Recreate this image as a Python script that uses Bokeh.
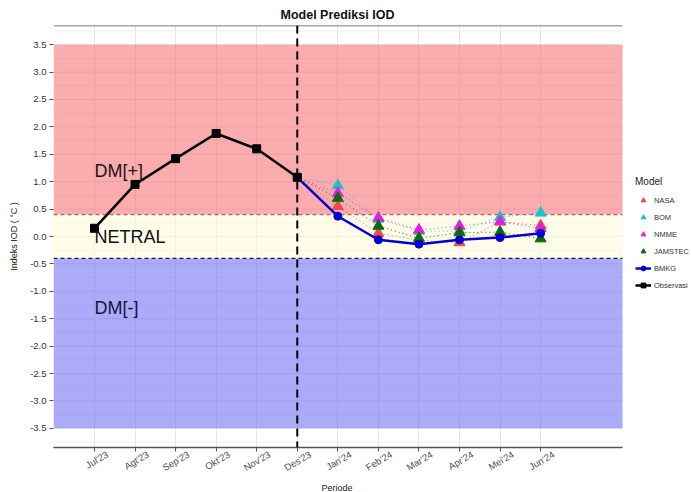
import numpy as np
from bokeh.plotting import figure
from bokeh.models import (Range1d, FixedTicker, LinearAxis, Span, Label, Legend, LegendItem,
                          BoxAnnotation, SingleIntervalTicker, PrintfTickFormatter, Grid, Title)
from bokeh.embed import file_html
from bokeh.resources import INLINE

# ---- data ----
periods = ["Jul'23", "Agt'23", "Sep'23", "Okt'23", "Nov'23", "Des'23",
           "Jan'24", "Feb'24", "Mar'24", "Apr'24", "Mei'24", "Jun'24"]
period_pos = list(range(1, 13))
obs_idx = [1, 2, 3, 4, 5, 6]
observasi = [0.15, 0.95, 1.42, 1.88, 1.60, 1.08]
fc_idx = [6, 7, 8, 9, 10, 11, 12]
bmkg = [1.08, 0.37, -0.06, -0.14, -0.06, -0.02, 0.06]
nasa = [1.08, 0.55, 0.06, -0.07, -0.11, 0.27, 0.20]
bom = [1.08, 0.93, 0.32, 0.10, 0.10, 0.35, 0.43]
nmme = [1.08, 0.79, 0.34, 0.12, 0.19, 0.27, 0.15]
jamstec = [1.08, 0.70, 0.19, -0.03, 0.07, 0.08, -0.04]
model_names = ["NASA", "BOM", "NMME", "JAMSTEC"]
model_values = [nasa, bom, nmme, jamstec]
model_colors = ["#F04A4A", "#22C0C6", "#E020E0", "#0A6A0A"]
zone_texts = ["DM[+]", "NETRAL", "DM[-]"]
zone_text_y = [1.2, 0.0, -1.3]
des_pos = 6
thr_hi, thr_lo = 0.4, -0.4
zone_top, zone_bot = 3.5, -3.5

FONT = "Liberation Sans"
X0, X_EDGE, X1 = -0.01, 14.02, 15.72   # panel left, panel right, canvas right
Y0, Y1 = -3.85, 3.85

p = figure(width=691, height=492, output_backend="svg", toolbar_location=None,
           x_range=Range1d(X0, X1), y_range=Range1d(Y0, Y1),
           min_border_left=53, min_border_right=0, min_border_top=25,
           min_border_bottom=42, x_axis_type=None, y_axis_type=None)
p.title.text = "Model Prediksi IOD"
p.title.align = "left"
p.title.offset = 227
p.title.text_font = FONT
p.title.text_font_size = "12.5px"
p.title.text_font_style = "bold"
p.title.text_color = "#111111"
p.title.standoff = 7
p.outline_line_color = None
p.background_fill_color = "white"

# x axis: line + ticks (labels hidden)
xaxis = LinearAxis(ticker=FixedTicker(ticks=period_pos), bounds=(X0, X_EDGE))
xaxis.major_label_text_font_size = "1px"
xaxis.major_label_text_color = None
xaxis.major_label_standoff = 0
xaxis.axis_line_color = "#555555"
xaxis.axis_line_width = 1.3
xaxis.major_tick_line_color = "#555555"
xaxis.major_tick_out = 4
xaxis.major_tick_in = 0
xaxis.minor_tick_line_color = None
p.add_layout(xaxis, "below")

# x axis: rotated labels, centred on the ticks
lab_shift = 0.32
lab_ticks = [v + lab_shift for v in period_pos]
xlab = LinearAxis(ticker=FixedTicker(ticks=lab_ticks),
                  major_label_overrides={t: s for t, s in zip(lab_ticks, periods)})
xlab.major_label_orientation = 0.53
xlab.major_label_text_font = FONT
xlab.major_label_text_font_size = "9.5px"
xlab.major_label_text_color = "#4D4D4D"
xlab.major_label_standoff = 2
xlab.axis_line_color = None
xlab.major_tick_line_color = None
xlab.minor_tick_line_color = None
xlab.major_tick_out = 0
xlab.major_tick_in = 0
p.add_layout(xlab, "below")

p.add_layout(Title(text="Periode", align="left", offset=268, text_font=FONT,
                   text_font_size="9px", text_font_style="normal",
                   text_color="#222222", standoff=0), "below")

yaxis = LinearAxis(ticker=SingleIntervalTicker(interval=0.5, num_minor_ticks=2),
                   formatter=PrintfTickFormatter(format="%.1f"))
yaxis.major_label_text_font = FONT
yaxis.major_label_text_font_size = "9.5px"
yaxis.major_label_text_color = "#333333"
yaxis.major_label_standoff = 3
yaxis.axis_line_color = None
yaxis.major_tick_line_color = "#555555"
yaxis.major_tick_out = 4
yaxis.major_tick_in = 0
yaxis.minor_tick_line_color = None
yaxis.axis_label = "Indeks IOD ( \u00b0C )"
yaxis.axis_label_text_font = FONT
yaxis.axis_label_text_font_size = "9px"
yaxis.axis_label_text_font_style = "normal"
yaxis.axis_label_text_color = "#222222"
yaxis.axis_label_standoff = 8
p.add_layout(yaxis, "left")

# grid (limited to the panel)
p.add_layout(Grid(dimension=0, ticker=xaxis.ticker, grid_line_color="#E6E6E6"))
gy_major = np.arange(zone_bot, zone_top + 0.01, 0.5)
gy_minor = np.arange(zone_bot - 0.25, zone_top + 0.26, 0.5)
p.segment(x0=X0, x1=X_EDGE, y0=gy_minor, y1=gy_minor, line_color="#F0F0F0",
          line_width=1, level="underlay")
p.segment(x0=X0, x1=X_EDGE, y0=gy_major, y1=gy_major, line_color="#E6E6E6",
          line_width=1, level="underlay")

# shaded zones
p.add_layout(BoxAnnotation(left=X0, right=X_EDGE, bottom=thr_hi, top=zone_top,
                           fill_color="#F55A5F", fill_alpha=0.5, line_color=None,
                           level="underlay"))
p.add_layout(BoxAnnotation(left=X0, right=X_EDGE, bottom=thr_lo, top=thr_hi,
                           fill_color="#FCFCD8", fill_alpha=0.55, line_color=None,
                           level="underlay"))
p.add_layout(BoxAnnotation(left=X0, right=X_EDGE, bottom=zone_bot, top=thr_lo,
                           fill_color="#5858F5", fill_alpha=0.5, line_color=None,
                           level="underlay"))

# threshold lines, panel top line, Des'23 divider
p.segment(x0=X0, x1=X_EDGE, y0=thr_hi, y1=thr_hi, line_color="#B06060",
          line_dash="4 3", line_width=1.2)
p.segment(x0=X0, x1=X_EDGE, y0=thr_lo, y1=thr_lo, line_color="#1A1A40",
          line_dash="4 3", line_width=1.2)
p.segment(x0=X0, x1=X_EDGE, y0=Y1, y1=Y1, line_color="#555555", line_width=1.5)
p.add_layout(Span(location=des_pos, dimension="height", line_color="black",
                  line_dash="8 5", line_width=2))

# zone texts
for txt, yv, col in zip(zone_texts, zone_text_y, ["#1F1515", "#111111", "#151540"]):
    p.add_layout(Label(x=1, y=yv, text=txt, text_font=FONT, text_font_size="18px",
                       text_color=col, text_baseline="middle", text_align="left"))

items = []
for name, vals, col in zip(model_names, model_values, model_colors):
    p.line(fc_idx, vals, line_color=col, line_width=1, line_dash="1 3", line_alpha=0.9)
for name, vals, col in zip(model_names, model_values, model_colors):
    r = p.scatter(fc_idx[1:], vals[1:], marker="triangle", size=11, fill_color=col,
                  line_color=col)
    items.append(LegendItem(label=name, renderers=[r]))

rb1 = p.line(fc_idx, bmkg, line_color="#0000D0", line_width=2.5)
rb2 = p.scatter(fc_idx, bmkg, marker="circle", size=8, fill_color="#0000D0",
                line_color="#0000D0")
items.append(LegendItem(label="BMKG", renderers=[rb1, rb2]))

ro1 = p.line(obs_idx, observasi, line_color="black", line_width=2.5)
ro2 = p.scatter(obs_idx, observasi, marker="square", size=8, fill_color="black",
                line_color="black")
items.append(LegendItem(label="Observasi", renderers=[ro1, ro2]))

legend = Legend(items=items, location=(582, 156), title="Model",
                title_text_font=FONT, title_text_font_size="10px",
                title_text_font_style="normal", title_text_color="#222222",
                title_standoff=7,
                label_text_font=FONT, label_text_font_size="7.5px",
                label_text_color="#333333", glyph_width=16, glyph_height=12,
                label_height=12, spacing=5, label_standoff=3, padding=0, margin=0,
                border_line_color=None, background_fill_alpha=0)
p.add_layout(legend, "center")

open("out.html", "w").write(file_html(p, INLINE))
